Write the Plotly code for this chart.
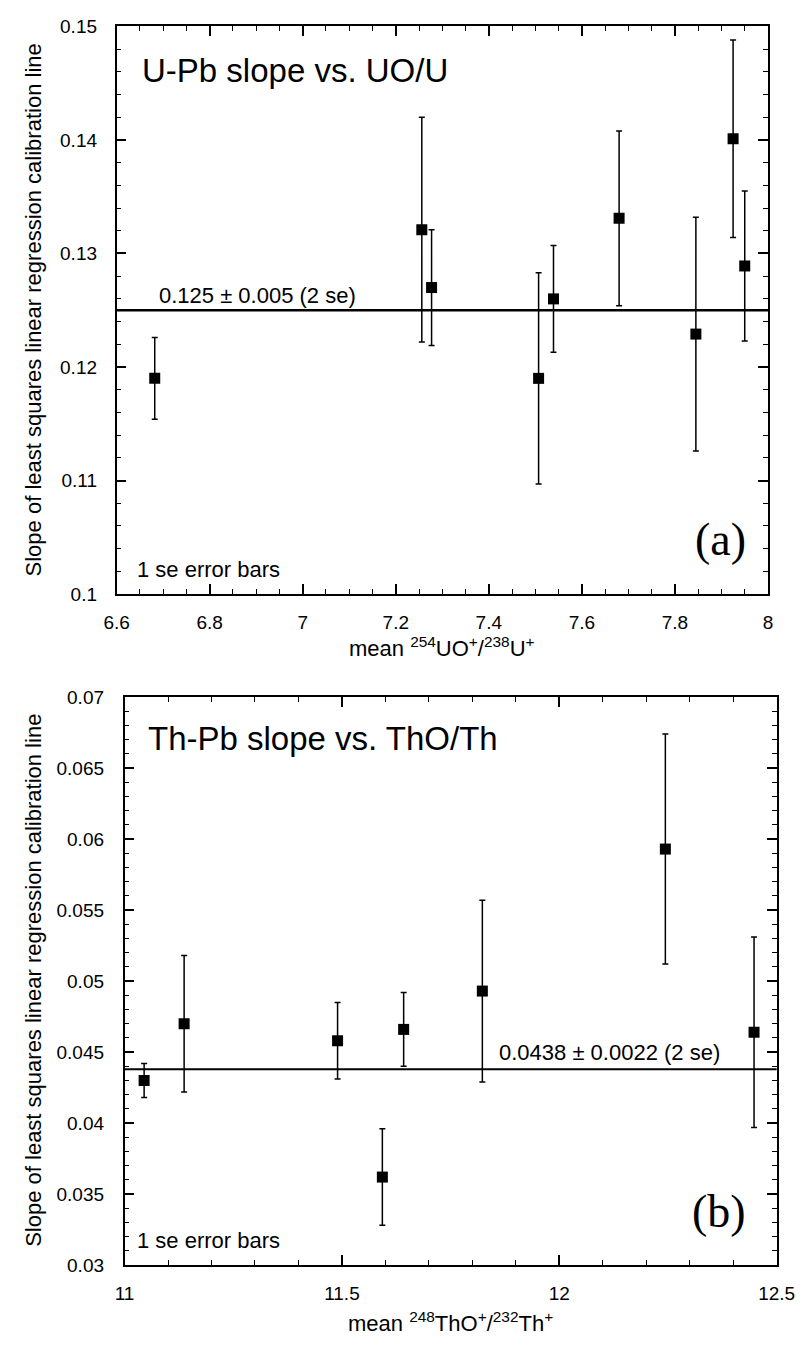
import plotly.graph_objects as go

# ---- Panel (a): U-Pb slope vs UO/U ----
uo_u = [6.682, 7.256, 7.277, 7.507, 7.539, 7.680, 7.845, 7.925, 7.950]
u_slope = [0.1190, 0.1321, 0.1270, 0.1190, 0.1260, 0.1331, 0.1229, 0.1401, 0.1289]
u_err = [0.0036, 0.0099, 0.0051, 0.0093, 0.0047, 0.0077, 0.0103, 0.0087, 0.0066]
u_mean = 0.125
u_label = "0.125 ± 0.005 (2 se)"

# ---- Panel (b): Th-Pb slope vs ThO/Th ----
tho_th = [11.045, 11.137, 11.490, 11.593, 11.642, 11.823, 12.244, 12.448]
th_slope = [0.0430, 0.0470, 0.0458, 0.0362, 0.0466, 0.0493, 0.0593, 0.0464]
th_err = [0.0012, 0.0048, 0.0027, 0.0034, 0.0026, 0.0064, 0.0081, 0.0067]
th_mean = 0.0438
th_label = "0.0438 ± 0.0022 (2 se)"

W, H = 811, 1347
FONT = "Liberation Sans, Arial, sans-serif"
SERIF = "Liberation Serif, Times New Roman, serif"

fig = go.Figure()

fig.add_trace(go.Scatter(
    x=uo_u, y=u_slope, mode="markers",
    marker=dict(symbol="square", size=11, color="black"),
    error_y=dict(type="data", array=u_err, visible=True, color="black", thickness=1.5, width=3),
    xaxis="x", yaxis="y", showlegend=False))

fig.add_trace(go.Scatter(
    x=tho_th, y=th_slope, mode="markers",
    marker=dict(symbol="square", size=11, color="black"),
    error_y=dict(type="data", array=th_err, visible=True, color="black", thickness=1.5, width=3),
    xaxis="x2", yaxis="y2", showlegend=False))

def px2x(p):
    return p / W

def px2y(p):
    return 1 - p / H

axis_common = dict(
    showline=True, linecolor="black", linewidth=1.5, mirror="allticks",
    ticks="inside", ticklen=10, tickwidth=1.5, tickcolor="black",
    showgrid=False, zeroline=False,
    tickfont=dict(family=FONT, size=19, color="black"),
)

fig.update_layout(
    width=W, height=H,
    margin=dict(l=0, r=0, t=0, b=0),
    paper_bgcolor="white", plot_bgcolor="white",
    xaxis=dict(axis_common, domain=[px2x(107.7), px2x(785)], range=[6.6, 8],
               dtick=0.2, tick0=6.6, anchor="y", ticklabelstandoff=10,
               minor=dict(dtick=0.05, tick0=6.6, ticks="inside", ticklen=5, tickwidth=1, tickcolor="black")),
    yaxis=dict(axis_common, domain=[px2y(593.3), px2y(16.7)], range=[0.1, 0.15],
               dtick=0.01, anchor="x", ticklabelstandoff=14,
               minor=dict(dtick=0.002, ticks="inside", ticklen=5, tickwidth=1, tickcolor="black")),
    xaxis2=dict(axis_common, domain=[px2x(116), px2x(794)], range=[11, 12.5],
                dtick=0.5, tick0=11, anchor="y2", ticklabelstandoff=10,
                minor=dict(dtick=0.1, tick0=11, ticks="inside", ticklen=5, tickwidth=1, tickcolor="black")),
    yaxis2=dict(axis_common, domain=[px2y(1275), px2y(698)], range=[0.03, 0.07],
                dtick=0.005, anchor="x2", ticklabelstandoff=15,
                minor=dict(dtick=0.001, ticks="inside", ticklen=5, tickwidth=1, tickcolor="black")),
)

# mean lines
fig.add_shape(type="line", xref="x domain", yref="y", x0=0, x1=1, y0=u_mean, y1=u_mean,
              line=dict(color="black", width=2.5))
fig.add_shape(type="line", xref="x2 domain", yref="y2", x0=0, x1=1, y0=th_mean, y1=th_mean,
              line=dict(color="black", width=2))

ann = []
# panel (a) texts
ann.append(dict(x=6.65, y=0.1461, xref="x", yref="y", text="U-Pb slope vs. UO/U",
                xanchor="left", yanchor="middle", showarrow=False,
                font=dict(family=FONT, size=33, color="black")))
ann.append(dict(x=6.686, y=0.1263, xref="x", yref="y", text=u_label,
                xanchor="left", yanchor="middle", showarrow=False,
                font=dict(family=FONT, size=22, color="black")))
ann.append(dict(x=6.64, y=0.1022, xref="x", yref="y", text="1 se error bars",
                xanchor="left", yanchor="middle", showarrow=False,
                font=dict(family=FONT, size=22, color="black")))
ann.append(dict(x=7.897, y=0.1048, xref="x", yref="y", text="(a)",
                xanchor="center", yanchor="middle", showarrow=False,
                font=dict(family=SERIF, size=46, color="black")))
# panel (b) texts
ann.append(dict(x=11.05, y=0.06712, xref="x2", yref="y2", text="Th-Pb slope vs. ThO/Th",
                xanchor="left", yanchor="middle", showarrow=False,
                font=dict(family=FONT, size=33, color="black")))
ann.append(dict(x=11.857, y=0.04494, xref="x2", yref="y2", text=th_label,
                xanchor="left", yanchor="middle", showarrow=False,
                font=dict(family=FONT, size=22, color="black")))
ann.append(dict(x=11.023, y=0.0317, xref="x2", yref="y2", text="1 se error bars",
                xanchor="left", yanchor="middle", showarrow=False,
                font=dict(family=FONT, size=22, color="black")))
ann.append(dict(x=12.368, y=0.03375, xref="x2", yref="y2", text="(b)",
                xanchor="center", yanchor="middle", showarrow=False,
                font=dict(family=SERIF, size=46, color="black")))

# axis titles
ytitle = "Slope of least squares linear regression calibration line"
ann.append(dict(x=px2x(21), y=px2y(305), xref="paper", yref="paper", text=ytitle,
                textangle=-90, xanchor="center", yanchor="middle", showarrow=False,
                font=dict(family=FONT, size=22, color="black")))
ann.append(dict(x=px2x(21), y=px2y(986), xref="paper", yref="paper", text=ytitle,
                textangle=-90, xanchor="center", yanchor="middle", showarrow=False,
                font=dict(family=FONT, size=22, color="black")))
ann.append(dict(x=px2x(446), y=px2y(647), xref="paper", yref="paper",
                text="mean <sup>254</sup>UO<sup>+</sup>/<sup>238</sup>U<sup>+</sup>",
                xanchor="center", yanchor="middle", showarrow=False,
                font=dict(family=FONT, size=22, color="black")))
ann.append(dict(x=px2x(455), y=px2y(1333), xref="paper", yref="paper",
                text="mean <sup>248</sup>ThO<sup>+</sup>/<sup>232</sup>Th<sup>+</sup>",
                xanchor="center", yanchor="middle", showarrow=False,
                font=dict(family=FONT, size=22, color="black")))

fig.update_layout(annotations=ann)

fig.write_html("out.html")
